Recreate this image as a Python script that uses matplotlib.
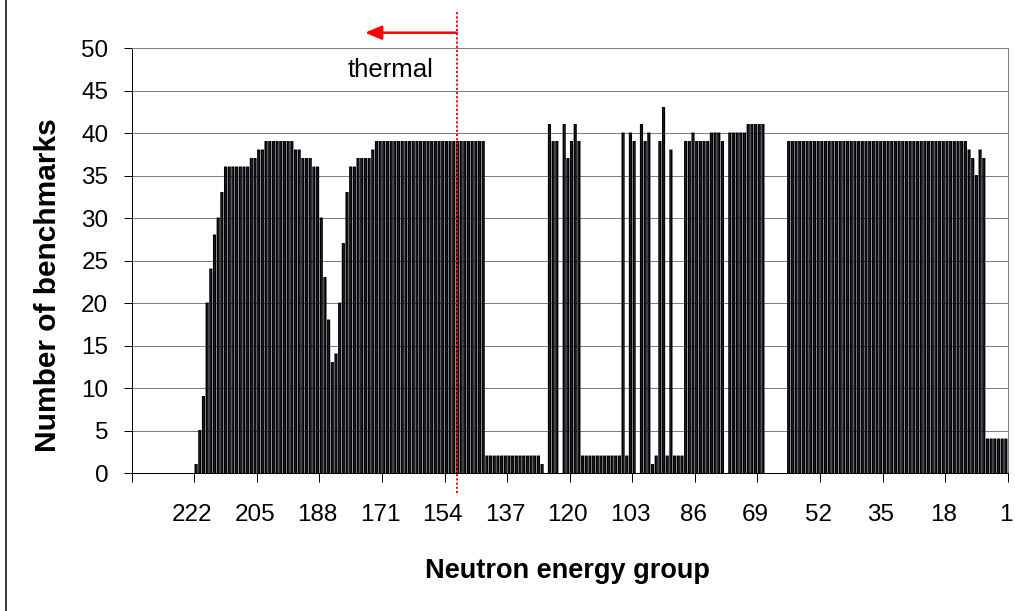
import matplotlib
matplotlib.use("Agg")
import matplotlib.pyplot as plt
from matplotlib.lines import Line2D

plt.rcParams["font.family"] = ["Liberation Sans", "DejaVu Sans"]

# Number of benchmarks sensitive to each neutron energy group (group 1 = fastest).
groups_001_017 = [4, 4, 4, 4, 4, 4, 37, 38, 35, 37, 38, 39, 39, 39, 39, 39, 39]
groups_018_034 = [39, 39, 39, 39, 39, 39, 39, 39, 39, 39, 39, 39, 39, 39, 39, 39, 39]
groups_035_051 = [39, 39, 39, 39, 39, 39, 39, 39, 39, 39, 39, 39, 39, 39, 39, 39, 39]
groups_052_068 = [39, 39, 39, 39, 39, 39, 39, 39, 39, 0, 0, 0, 0, 0, 0, 41, 41]
groups_069_085 = [41, 41, 41, 40, 40, 40, 40, 40, 0, 39, 40, 40, 40, 39, 39, 39, 39]
groups_086_102 = [40, 39, 39, 2, 2, 2, 38, 2, 43, 39, 2, 1, 40, 39, 41, 0, 39]
groups_103_119 = [40, 2, 40, 2, 2, 2, 2, 2, 2, 2, 2, 2, 2, 2, 39, 41, 39]
groups_120_136 = [37, 41, 0, 39, 39, 41, 0, 1, 2, 2, 2, 2, 2, 2, 2, 2, 2]
groups_137_153 = [2, 2, 2, 2, 2, 2, 39, 39, 39, 39, 39, 39, 39, 39, 39, 39, 39]
groups_154_170 = [39, 39, 39, 39, 39, 39, 39, 39, 39, 39, 39, 39, 39, 39, 39, 39, 39]
groups_171_187 = [39, 39, 38, 37, 37, 37, 37, 36, 36, 33, 27, 20, 14, 13, 18, 23, 30]
groups_188_204 = [36, 36, 37, 37, 37, 38, 38, 39, 39, 39, 39, 39, 39, 39, 39, 38, 38]
groups_205_221 = [37, 37, 36, 36, 36, 36, 36, 36, 36, 33, 30, 28, 24, 20, 9, 5, 1]
groups_222_238 = [0, 0, 0, 0, 0, 0, 0, 0, 0, 0, 0, 0, 0, 0, 0, 0, 0]

benchmark_counts = (groups_001_017 + groups_018_034 + groups_035_051 + groups_052_068
                    + groups_069_085 + groups_086_102 + groups_103_119 + groups_120_136
                    + groups_137_153 + groups_154_170 + groups_171_187 + groups_188_204
                    + groups_205_221 + groups_222_238)
energy_groups = list(range(1, len(benchmark_counts) + 1))

labelled_groups = [1, 18, 35, 52, 69, 86, 103, 120, 137, 154, 171, 188, 205, 222]
y_ticks = [0, 5, 10, 15, 20, 25, 30, 35, 40, 45, 50]
thermal_boundary = 150.2   # position of the thermal cut-off marker (group axis)

W, H, DPI = 1015, 611, 100
fig = plt.figure(figsize=(W / DPI, H / DPI), dpi=DPI)
fig.patch.set_facecolor("white")

# plot area in pixel coordinates
left_px, right_px, top_px, bottom_px = 131.7, 1007.7, 48.3, 473.3
ax = fig.add_axes([left_px / W, 1 - bottom_px / H,
                   (right_px - left_px) / W, (bottom_px - top_px) / H])

px = 72.0 / DPI  # one pixel in points

bars = ax.bar(energy_groups, benchmark_counts, width=0.45, color="#9999FF",
              edgecolor="black", linewidth=1.5 * px, zorder=2)
for patch, count in zip(bars.patches, benchmark_counts):
    patch.set_snap(False)
    if count == 0:
        patch.set_visible(False)   # an empty group leaves no outline on the axis

ax.set_xlim(len(benchmark_counts) + 0.5, 0.5)
ax.set_ylim(0, 50)

# grid and frame
ax.set_axisbelow(True)
ax.yaxis.grid(True, color="#808080", linewidth=1.0 * px)
ax.xaxis.grid(False)
ax.spines["left"].set_color("black")
ax.spines["bottom"].set_color("black")
ax.spines["top"].set_color("#808080")
ax.spines["right"].set_color("#808080")
for s in ax.spines.values():
    s.set_linewidth(1.0 * px)

# y axis
ax.set_yticks(y_ticks)
ax.set_yticklabels([str(v) for v in y_ticks], fontsize=17.5)
ax.tick_params(axis="y", direction="out", length=8.4 * px, width=1.0 * px,
               pad=15 * px, colors="black")

# x axis: labels on every 17th group, tick marks on the category boundaries
ax.set_xticks(labelled_groups)
ax.set_xticklabels([str(g) for g in labelled_groups], fontsize=17.5)
ax.tick_params(axis="x", which="major", length=0, pad=31 * px)
boundaries = [0.5 + 17 * k for k in range(15)]
ax.set_xticks(boundaries, minor=True)
ax.tick_params(axis="x", which="minor", direction="out", length=8.5 * px,
               width=1.0 * px, colors="black")

fig.text(48 / W, 1 - 285 / H, "Number of benchmarks", rotation=90,
         ha="center", va="center", fontsize=21.5, fontweight="bold")
fig.text(567 / W, 1 - 571 / H, "Neutron energy group",
         ha="center", va="center", fontsize=19.5, fontweight="bold")

# thermal cut-off marker
marker_x = ax.transData.transform((thermal_boundary, 0))[0]
fig.add_artist(Line2D([marker_x, marker_x], [H - 493, H - 10], transform=None,
                      color="red", lw=2.0 * px, linestyle=(0, (1.0, 1.1)), zorder=5))
ax.annotate("", xy=(365, H - 32.7), xytext=(marker_x, H - 32.7),
            xycoords="figure pixels", textcoords="figure pixels",
            arrowprops=dict(arrowstyle="-|>,head_length=0.5,head_width=0.21",
                            mutation_scale=20, color="red", lw=2.5 * px,
                            shrinkA=0, shrinkB=0))
fig.text(348 / W, 1 - 76.7 / H, "thermal", ha="left", va="baseline", fontsize=18.5)

# chart-area frame edge on the left
fig.add_artist(Line2D([5.5, 5.5], [0, H], transform=None, color="black", lw=1.5 * px))

fig.savefig("out.png", dpi=DPI, facecolor="white")
